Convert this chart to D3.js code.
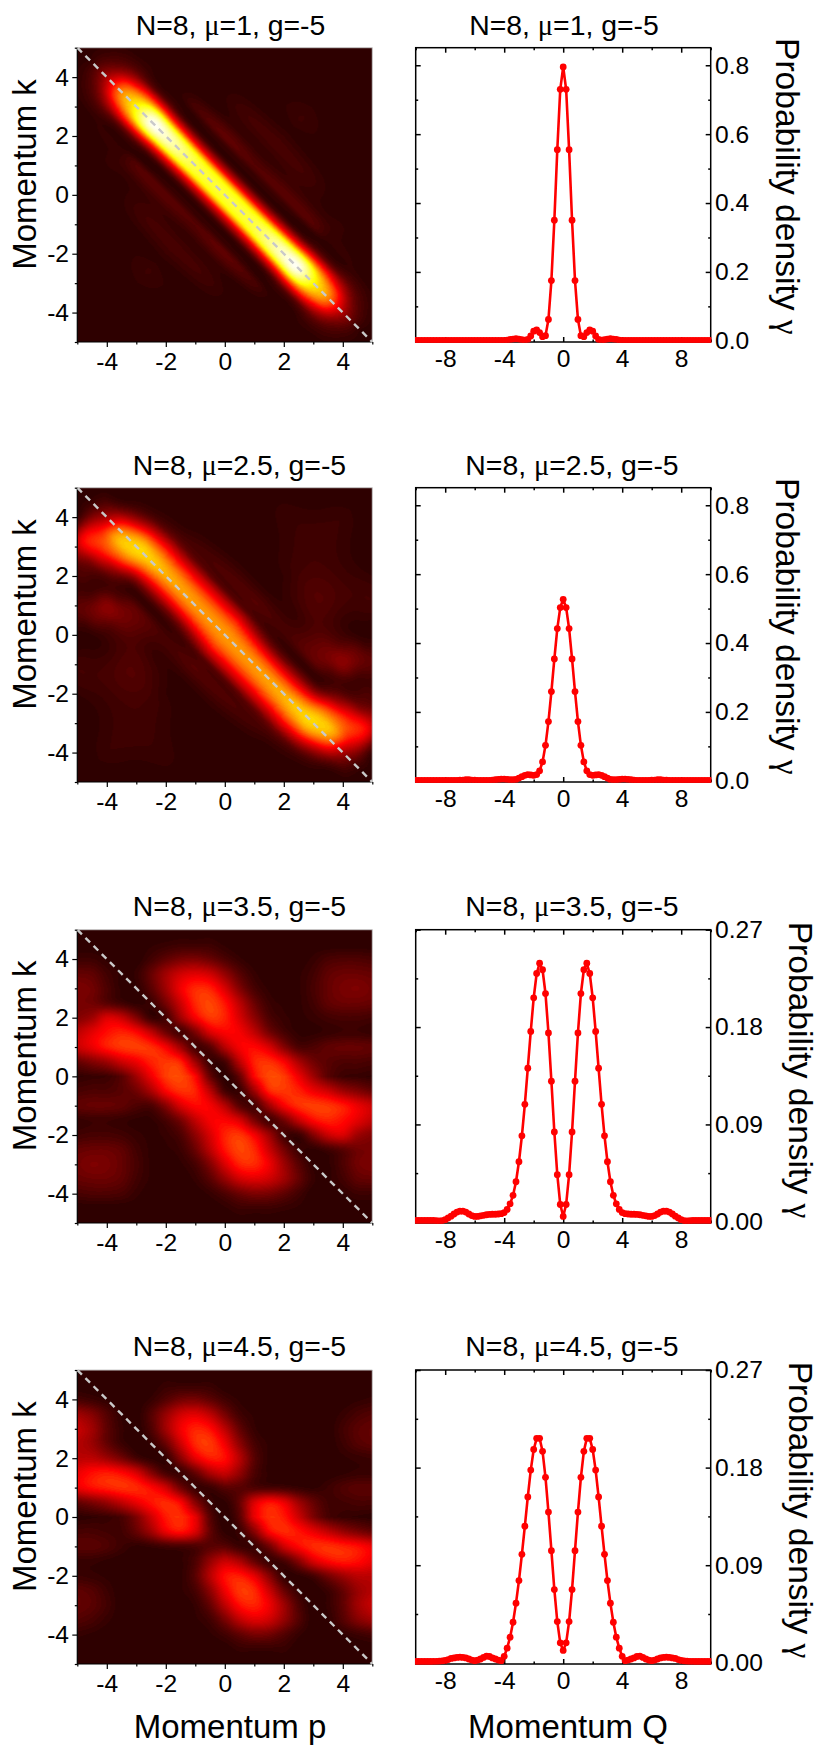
<!DOCTYPE html>
<html><head><meta charset="utf-8">
<script src="https://cdn.jsdelivr.net/npm/d3@7"></script>
<style>html,body{margin:0;padding:0;background:#fff}svg{display:block}text{font-family:"Liberation Sans",Arial,sans-serif;fill:#000}</style>
</head><body><script>
const muValues=["1","2.5","3.5","4.5"];
const heatTicks=[-4,-2,0,2,4], heatMinor=[-5,-3,-1,1,3,5];
const qTicks=[-8,-4,0,4,8], qMinor=[-10,-6,-2,2,6,10];
const yTicksA=[0,0.2,0.4,0.6,0.8], yMinorA=[0.1,0.3,0.5,0.7];
const yTicksB=[0,0.09,0.18,0.27], yMinorB=[0.045,0.135,0.225];
const yTops=[0.851,0.851,0.27,0.27];

// density at Q = 0, 0.2, 0.4 ... 10 (the curves are even in Q)
const gamma1=[.795,.73,.555,.35,.175,.062,.015,.012,.024,.032,.028,.014,.004,.002,.003,.005,.006,.005,.004,.002,.001,.001,.001,.001,.001,.001,.001,.001,.001,.001,.001,.001,.001,.001,.001,.001,.001,.001,.001,.001,.001,.001,.001,.001,.001,.001,.001,.001,.001,.001,.001];
const gamma2=[.527,.503,.442,.354,.259,.172,.103,.055,.029,.018,.016,.017,.018,.016,.012,.008,.004,.003,.003,.004,.005,.005,.004,.003,.002,.001,.001,.001,.001,.001,.002,.002,.003,.003,.002,.002,.001,.001,.001,.001,.001,.001,.001,.001,.001,.001,.001,.001,.001,.001,.001];
const gamma3=[.005,.016,.0436,.083,.13,.1746,.211,.233,.239,.2295,.207,.176,.142,.1086,.0795,.0555,.037,.0245,.0166,.0114,.0085,.0075,.0072,.007,.007,.0068,.0065,.006,.0055,.005,.005,.0058,.0072,.009,.0098,.0098,.009,.0072,.0052,.0035,.002,.001,.0008,.001,.0012,.0012,.0012,.0012,.0012,.0012,.0012];
const gamma4=[.0114,.0184,.038,.0675,.1034,.139,.171,.195,.207,.207,.1967,.1777,.153,.126,.1,.0758,.055,.0374,.0236,.0135,.006,.002,.0025,.0035,.0045,.0058,.0062,.005,.0035,.0025,.002,.0025,.0035,.0045,.005,.0052,.005,.0045,.004,.003,.0022,.0018,.0015,.0014,.0013,.0012,.0012,.0012,.0012,.0012,.0012];
const gammas=[gamma1,gamma2,gamma3,gamma4];

// Band maps: rows along the diagonal s=(p-k)/2, columns across it e=(p+k)/2
const bandS=[-5,-4.5,-4,-3.5,-3,-2.5,-2,-1,0];
const bandE1=[-3.2,-2.6,-2.2,-1.75,-1.35,-1,-.8,-.6,-.4,-.2,0,.2,.4,.6,.8,1,1.35,1.75,2.2,2.6,3.2];
const heat1=[
[0,0,0,0,0,0,0,0,0,0,0,0,0,0,0,0,0,0,0,0,0],
[0,0,0,0,0,0,0,.01,.02,.03,.03,.03,.02,.01,0,0,0,0,0,0,0],
[0,0,0,0,0,0,.02,.05,.1,.17,.22,.17,.1,.05,.02,0,0,0,0,0,0],
[0,0,0,0,0,.01,.03,.1,.27,.47,.55,.47,.27,.1,.03,.01,0,0,0,0,0],
[0,0,0,0,0,.02,.01,.1,.4,.65,.73,.65,.4,.1,.01,.01,0,0,0,0,0],
[0,0,0,0,.02,.02,.01,.1,.44,.85,.98,.85,.44,.1,.01,.01,0,0,0,0,0],
[0,0,0,0,.02,.07,.01,.06,.38,.82,.95,.82,.38,.06,.01,.05,0,0,0,0,0],
[0,0,0,.04,.03,.08,.02,.04,.31,.72,.8,.72,.31,.04,.02,.09,.02,.04,0,0,0],
[0,.03,.01,.05,.02,.07,.02,.04,.3,.7,.78,.7,.3,.04,.02,.07,.02,.05,.01,.03,0]];
const bandE2=[-4.6,-3.8,-3.1,-2.3,-1.9,-1.5,-1.1,-.8,-.6,-.4,-.2,0,.2,.4,.6,.8,1.1,1.5,1.9,2.3,3.1,3.8,4.6];
const heat2=[
[0,0,0,0,0,0,0,0,0,0,0,0,0,0,0,0,0,0,0,0,0,0,0],
[0,0,0,0,0,0,0,0,.02,.03,.04,.03,.02,.01,0,0,0,0,0,0,0,0,0],
[0,0,0,0,0,0,.2,.36,.38,.34,.28,.22,.15,.06,.01,0,0,0,0,0,0,0,0],
[0,0,0,0,0,.05,.12,.32,.44,.53,.6,.56,.42,.24,.1,.03,0,0,0,0,0,0,0],
[0,0,0,.07,.08,.04,.05,.18,.35,.52,.64,.67,.6,.42,.22,.07,.01,0,0,0,0,0,0],
[0,0,0,.02,.11,.16,.05,.04,.15,.36,.55,.65,.6,.45,.27,.1,.02,0,0,0,0,0,0],
[0,0,.04,.01,.05,.12,.1,.02,.12,.31,.5,.61,.57,.43,.25,.09,.04,0,0,0,0,0,0],
[0,0,.03,.07,.06,.03,.05,.03,.12,.32,.5,.58,.54,.41,.24,.07,.06,.01,0,0,.02,0,0],
[0,.03,.04,.03,.01,.01,.07,.07,.24,.42,.54,.58,.54,.42,.24,.07,.07,.01,.01,.03,.04,.03,0]];

// Blob maps: rows at k = 5 ... 0, columns at p = -5 ... 5 in steps of 0.5
const gridK=[5,4.5,4,3.5,3,2.5,2,1.5,1,.5,0];
const gridP=[-5,-4.5,-4,-3.5,-3,-2.5,-2,-1.5,-1,-.5,0,.5,1,1.5,2,2.5,3,3.5,4,4.5,5];
const heat3=[
[0,0,0,0,0,0,0,0,0,0,0,0,0,0,0,0,0,0,0,0,0],
[0,0,0,0,0,.01,.02,.03,.03,.03,.01,0,0,0,0,0,0,0,0,0,0],
[.03,.03,.01,0,0,.04,.09,.13,.14,.11,.06,.02,0,0,0,0,.02,.05,.06,.06,.05],
[.1,.09,.04,.01,.02,.1,.2,.28,.31,.28,.18,.08,.02,0,0,.01,.04,.09,.11,.11,.1],
[.14,.12,.06,.01,.01,.08,.2,.34,.42,.41,.3,.15,.05,.01,0,.01,.05,.1,.13,.14,.12],
[.13,.12,.08,.04,.01,.03,.13,.28,.42,.46,.39,.25,.11,.03,.01,.01,.04,.09,.11,.11,.1],
[.15,.2,.3,.27,.15,.03,.05,.2,.35,.44,.41,.3,.17,.06,.02,.01,.02,.04,.05,.05,.04],
[.25,.32,.38,.41,.37,.26,.12,.05,.14,.3,.36,.35,.26,.13,.05,.01,.01,.02,.03,.03,.02],
[.27,.33,.4,.44,.45,.43,.35,.2,.05,.08,.24,.35,.37,.3,.16,.06,.06,.09,.1,.1,.09],
[.1,.15,.2,.28,.34,.41,.44,.41,.2,.03,.05,.25,.41,.43,.36,.22,.12,.08,.06,.06,.05],
[.01,.02,.03,.08,.2,.34,.45,.47,.37,.1,0,.1,.37,.47,.45,.34,.2,.08,.03,.02,.01]];
const heat4=[
[0,0,0,0,0,0,0,0,0,0,0,0,0,0,0,0,0,0,0,0,0],
[0,0,0,0,0,0,.02,.02,.02,.02,0,0,0,0,0,0,0,0,0,0,0],
[.05,.03,.01,0,0,.02,.07,.12,.13,.09,.04,.01,0,0,0,0,0,0,0,.01,.02],
[.2,.15,.07,.01,0,.07,.18,.28,.31,.25,.13,.04,.01,0,0,0,0,0,.02,.05,.07],
[.27,.2,.09,.02,0,.06,.2,.34,.41,.38,.25,.1,.02,0,0,0,0,0,.04,.08,.1],
[.24,.19,.1,.03,0,.02,.11,.28,.42,.44,.34,.17,.05,.01,0,0,0,0,.03,.07,.09],
[.25,.25,.2,.13,.05,.01,.02,.16,.32,.4,.38,.24,.08,.01,0,0,0,0,.01,.02,.03],
[.33,.38,.4,.37,.3,.16,.05,.03,.1,.22,.27,.18,.06,.01,0,0,0,0,.01,.02,.02],
[.33,.38,.41,.43,.42,.37,.28,.12,.03,.03,.08,.08,.06,.05,.04,.02,.01,.03,.06,.08,.08],
[.1,.14,.19,.26,.33,.39,.42,.36,.16,.03,.01,.1,.3,.38,.33,.2,.1,.04,.04,.05,.05],
[0,.01,.02,.05,.14,.28,.4,.43,.33,.08,0,.08,.33,.43,.4,.28,.14,.05,.02,.01,0]];

const W=830,H=1750;
const heatX=[77.3,372.3], plotX=[415.7,710.7];
const rowsTop=[47.7,487.7,929.7,1370], rowsBot=[342,782,1223,1664];
const titleL=[230.5,239.5,239.5,239.5], titleR=[564,572,572,572];
const titleY=[35,475,916,1356];
const leftLabelY=[174.5,614.5,1055.8,1496.7];
const rightLabelX=[775.7,775.7,789,789], rightLabelY=[38,478,921.7,1361.7];
const fTick=24.6,fTitle=28.4,fAxis=33,fRight=33.6;
const symbolFont='"Liberation Serif"';

const color=d3.scaleLinear().domain([0,.36,.72,1]).range(["#2e0000","#ff0000","#ffff00","#ffffff"]).clamp(true);
const levels=72;

function spline(xs,ys,x){
  const n=xs.length;
  let i=d3.bisectRight(xs,x)-1; i=Math.max(0,Math.min(n-2,i));
  const h=xs[i+1]-xs[i],t=Math.max(0,Math.min(1,(x-xs[i])/h));
  const slope=j=>{ if(j<=0)return (ys[1]-ys[0])/(xs[1]-xs[0]); if(j>=n-1)return (ys[n-1]-ys[n-2])/(xs[n-1]-xs[n-2]);
    return (ys[j+1]-ys[j-1])/(xs[j+1]-xs[j-1]);};
  const m0=slope(i)*h,m1=slope(i+1)*h,t2=t*t,t3=t2*t;
  return (2*t3-3*t2+1)*ys[i]+(t3-2*t2+t)*m0+(-2*t3+3*t2)*ys[i+1]+(t3-t2)*m1;
}
function surface(rowNodes,colNodes,table){ // half plane is stored; value(r,c)=value(-r,-c)
  return (r,c)=>{
    if(r>0){r=-r;c=-c;}
    const col=table.map(row=>spline(colNodes,row,c));
    return spline(rowNodes,col,r);
  };
}
const band1=surface(bandS,bandE1,heat1), band2=surface(bandS,bandE2,heat2);
const kAsc=gridK.map(k=>-k);
const blob3=surface(kAsc,gridP,heat3), blob4=surface(kAsc,gridP,heat4);
const valueAt=[
 (p,k)=>band1((p-k)/2,(p+k)/2),
 (p,k)=>band2((p-k)/2,(p+k)/2),
 (p,k)=>blob3(-k,p),
 (p,k)=>blob4(-k,p)];

function heatImage(f,x,y){
  const w=Math.round(x.range()[1]-x.range()[0]),h=Math.round(y.range()[0]-y.range()[1]);
  const c=document.createElement("canvas");c.width=w;c.height=h;
  const g=c.getContext("2d"),img=g.createImageData(w,h);
  const px=d3.scaleLinear().domain([0,w]).range(x.domain()),py=d3.scaleLinear().domain([0,h]).range(y.domain().slice().reverse());
  for(let j=0;j<h;j++)for(let i=0;i<w;i++){
    const v=Math.max(0,f(px(i+.5),py(j+.5)));
    const q=Math.floor(v*levels)/levels;
    const col=d3.rgb(color(q));const o=(j*w+i)*4;
    img.data[o]=col.r;img.data[o+1]=col.g;img.data[o+2]=col.b;img.data[o+3]=255;
  }
  g.putImageData(img,0,0);return c.toDataURL();
}

const svg=d3.select("body").append("svg").attr("width",W).attr("height",H);
const fmt=d=>String(d);
function tickStyle(g,w){g.select(".domain").remove();g.selectAll(".tick line").attr("stroke","#000").attr("stroke-width",w);
  g.selectAll(".tick text").attr("font-size",fTick).attr("font-family",'"Liberation Sans"').attr("fill","#000");}
function addTitle(x,y,mu){
  const t=svg.append("text").attr("x",x).attr("y",y).attr("text-anchor","middle").attr("font-size",fTitle);
  t.append("tspan").text("N=8, ");
  t.append("tspan").attr("font-family",symbolFont).text("μ");
  t.append("tspan").text("="+mu+", g=-5");
}

muValues.forEach((mu,r)=>{
  const top=rowsTop[r],bot=rowsBot[r];
  const xH=d3.scaleLinear().domain([-5,5]).range(heatX);
  const yH=d3.scaleLinear().domain([-5,5]).range([bot,top]);
  const xP=d3.scaleLinear().domain([-10,10]).range(plotX);
  const yP=d3.scaleLinear().domain([0,yTops[r]]).range([bot-1.2,top]);

  // heat map
  svg.append("image").attr("x",heatX[0]).attr("y",top).attr("width",heatX[1]-heatX[0]).attr("height",bot-top)
    .attr("preserveAspectRatio","none").attr("href",heatImage(valueAt[r],xH,yH));
  svg.append("path").attr("d",`M${heatX[0]},${top}H${heatX[1]}V${bot}`).attr("fill","none").attr("stroke","#c8c8c8").attr("stroke-width",1);
  svg.append("path").attr("d",`M${heatX[0]},${top}V${bot}H${heatX[1]}`).attr("fill","none").attr("stroke","#000").attr("stroke-width",1.2);
  svg.append("line").attr("x1",xH(-5)).attr("y1",yH(5)).attr("x2",xH(5)).attr("y2",yH(-5))
    .attr("stroke","#c9c9c9").attr("stroke-width",2.4).attr("stroke-dasharray","6.5 5");

  const gx=svg.append("g").attr("transform",`translate(0,${bot})`).call(d3.axisBottom(xH).tickValues(heatTicks).tickFormat(fmt).tickSize(5).tickPadding(5.6));tickStyle(gx,1.2);
  const gxm=svg.append("g").attr("transform",`translate(0,${bot})`).call(d3.axisBottom(xH).tickValues(heatMinor).tickFormat("").tickSize(2.5));tickStyle(gxm,1.2);
  const gy=svg.append("g").attr("transform",`translate(${heatX[0]},0)`).call(d3.axisLeft(yH).tickValues(heatTicks).tickFormat(fmt).tickSize(5).tickPadding(3.3));tickStyle(gy,1.2);
  const gym=svg.append("g").attr("transform",`translate(${heatX[0]},0)`).call(d3.axisLeft(yH).tickValues(heatMinor).tickFormat("").tickSize(2.5));tickStyle(gym,1.2);

  addTitle(titleL[r],titleY[r],mu);
  svg.append("text").attr("transform",`translate(36,${leftLabelY[r]}) rotate(-90)`).attr("text-anchor","middle").attr("font-size",fAxis).text("Momentum k");

  // density panel
  const yt=r<2?yTicksA:yTicksB, ym=r<2?yMinorA:yMinorB;
  const fmtY=r<2?d3.format(".1f"):d3.format(".2f");
  svg.append("rect").attr("x",plotX[0]).attr("y",top).attr("width",plotX[1]-plotX[0]).attr("height",bot-top).attr("fill","#fff").attr("stroke","#000").attr("stroke-width",1.5);
  const axes=[
   [`translate(0,${bot})`,()=>d3.axisBottom(xP),qTicks,qMinor,fmt,7.6],
   [`translate(0,${top})`,()=>d3.axisTop(xP),qTicks,qMinor,null,0],
   [`translate(${plotX[0]},0)`,()=>d3.axisLeft(yP),yt,ym,null,0],
   [`translate(${plotX[1]},0)`,()=>d3.axisRight(yP),yt,ym,fmtY,4.3]];
  axes.forEach(([tr,ax,maj,min,f,pad])=>{
    const a=svg.append("g").attr("transform",tr).call(ax().tickValues(maj).tickFormat(f||"").tickSize(-5).tickPadding(pad));tickStyle(a,1.5);
    const b=svg.append("g").attr("transform",tr).call(ax().tickValues(min).tickFormat("").tickSize(-2.5));tickStyle(b,1.5);
  });
  const half=gammas[r];
  const pts=d3.range(-50,51).map(i=>({q:i/5,v:half[Math.abs(i)]}));
  const clipId="clip"+r;
  svg.append("clipPath").attr("id",clipId).append("rect").attr("x",plotX[0]-.7).attr("y",top).attr("width",plotX[1]-plotX[0]+1.4).attr("height",bot-top+.7);
  const m=svg.append("g").attr("clip-path",`url(#${clipId})`);
  m.append("path").datum(pts).attr("fill","none").attr("stroke","#ff0000").attr("stroke-width",2.6).attr("stroke-linejoin","round")
    .attr("d",d3.line().x(d=>xP(d.q)).y(d=>yP(d.v)));
  m.selectAll("circle").data(pts).join("circle").attr("cx",d=>xP(d.q)).attr("cy",d=>yP(d.v)).attr("r",3.4).attr("fill","#ff0000");

  addTitle(titleR[r],titleY[r],mu);
  const rl=svg.append("text").attr("transform",`translate(${rightLabelX[r]},${rightLabelY[r]}) rotate(90)`).attr("font-size",fRight);
  rl.append("tspan").text("Probability density ");
  rl.append("tspan").attr("font-family",symbolFont).text("γ");
});
svg.append("text").attr("x",230).attr("y",1738).attr("text-anchor","middle").attr("font-size",fAxis).text("Momentum p");
svg.append("text").attr("x",568).attr("y",1738).attr("text-anchor","middle").attr("font-size",fAxis).text("Momentum Q");
</script></body></html>
